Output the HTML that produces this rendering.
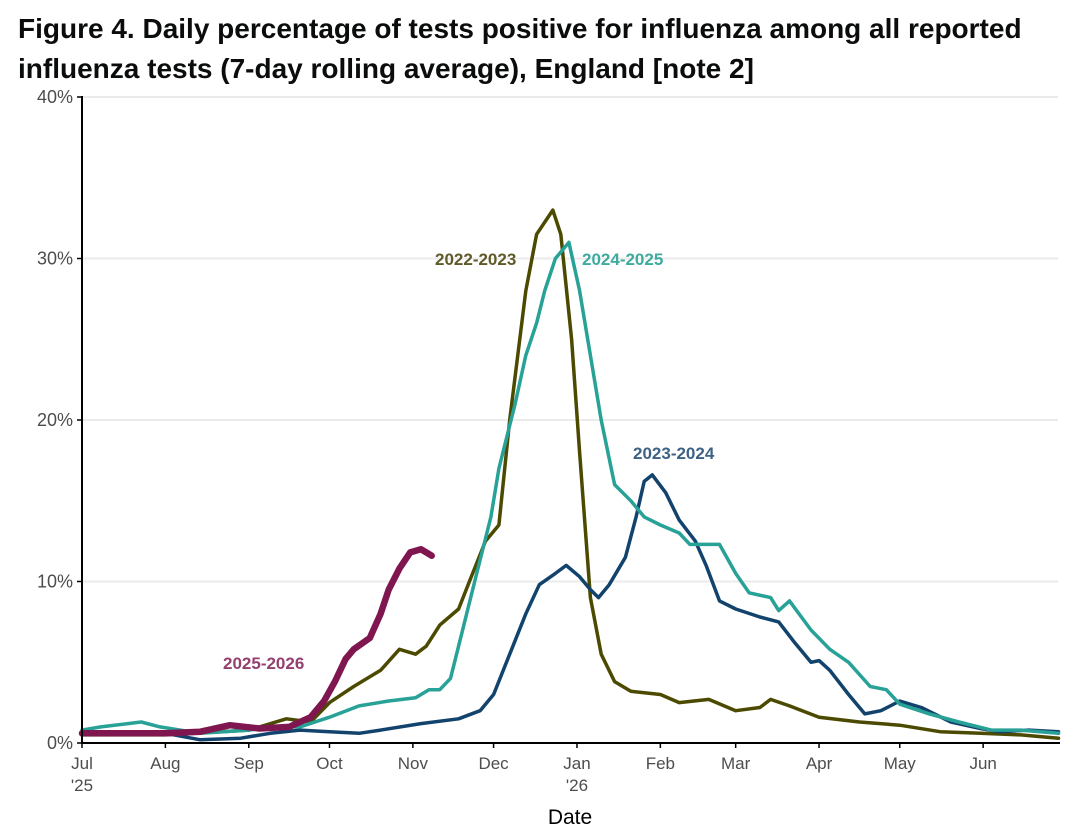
<!DOCTYPE html>
<html><head><meta charset="utf-8"><style>
body{margin:0;background:#fff;}
svg{display:block;font-family:"Liberation Sans",sans-serif;}
</style></head><body>
<svg id="chart" width="1070" height="840" viewBox="0 0 1070 840">
<text x="18" y="38" font-size="28" font-weight="bold" fill="#0b0c0c">Figure 4. Daily percentage of tests positive for influenza among all reported</text>
<text x="18" y="78" font-size="28" font-weight="bold" fill="#0b0c0c">influenza tests (7-day rolling average), England [note 2]</text>
<g id="grid"></g>
<g id="series"></g>
<g id="axes"></g>
<g id="labels"></g>
<text x="570" y="824" font-size="21" text-anchor="middle" fill="#000">Date</text>
</svg>
<script>
const yTicks = [0, 10, 20, 30, 40];
const yTickLabels = ["0%", "10%", "20%", "30%", "40%"];
const monthDays = [0, 31, 62, 92, 123, 153, 184, 215, 243, 274, 304, 335];
const monthLabels = ["Jul", "Aug", "Sep", "Oct", "Nov", "Dec", "Jan", "Feb", "Mar", "Apr", "May", "Jun"];
const monthSubLabels = ["'25", "", "", "", "", "", "'26", "", "", "", "", ""];
const s2223 = [[0,0.5],[31,0.5],[62,0.8],[76,1.5],[85,1.3],[92,2.5],[101,3.5],[111,4.5],[118,5.8],[124,5.5],[128,6],[133,7.3],[140,8.3],[144,10],[150,12.5],[155,13.5],[159,20],[165,28],[169,31.5],[175,33],[178,31.5],[182,25],[185,18],[189,9],[193,5.5],[198,3.8],[204,3.2],[215,3],[222,2.5],[233,2.7],[243,2],[252,2.2],[256,2.7],[263,2.3],[274,1.6],[289,1.3],[304,1.1],[319,0.7],[334,0.6],[349,0.5],[363,0.3]];
const s2324 = [[0,0.6],[31,0.6],[44,0.2],[59,0.3],[70,0.6],[81,0.8],[92,0.7],[103,0.6],[111,0.8],[126,1.2],[140,1.5],[148,2.0],[153,3],[159,5.5],[165,8],[170,9.8],[176,10.5],[180,11],[185,10.3],[189,9.5],[192,9.0],[196,9.8],[202,11.5],[206,14],[209,16.2],[212,16.6],[217,15.5],[222,13.8],[228,12.5],[232,11],[237,8.8],[243,8.3],[252,7.8],[259,7.5],[265,6.2],[271,5],[274,5.1],[278,4.5],[285,3],[291,1.8],[297,2],[304,2.6],[312,2.2],[323,1.3],[334,0.9],[341,0.7],[352,0.8],[363,0.7]];
const s2425 = [[0,0.8],[7,1.0],[22,1.3],[29,1.0],[44,0.6],[62,0.8],[70,1.0],[81,1.0],[92,1.6],[103,2.3],[114,2.6],[124,2.8],[129,3.3],[133,3.3],[137,4],[140,6],[146,10],[152,14],[155,17],[161,21],[165,24],[169,26],[172,28],[176,30],[181,31],[185,28],[189,24],[193,20],[198,16],[204,15],[209,14],[215,13.5],[222,13],[226,12.3],[237,12.3],[243,10.5],[248,9.3],[256,9],[259,8.2],[263,8.8],[271,7],[278,5.8],[285,5],[293,3.5],[299,3.3],[304,2.4],[315,1.8],[326,1.3],[338,0.8],[349,0.8],[363,0.6]];
const s2526 = [[0,0.6],[31,0.6],[44,0.7],[55,1.1],[66,0.9],[77,1.0],[85,1.6],[90,2.6],[94,3.8],[98,5.2],[101,5.8],[107,6.5],[111,8],[114,9.5],[118,10.8],[122,11.8],[126,12],[130,11.6]];

const NS="http://www.w3.org/2000/svg";
const x0=82, pxDay=2.69, y0=743, pxPct=16.15;
const xs=d=>x0+d*pxDay, ys=v=>y0-v*pxPct;
function mk(tag,parent){const e=document.createElementNS(NS,tag);document.getElementById(parent).appendChild(e);return e;}
yTicks.forEach((t,i)=>{
  const g=mk('line','grid');
  
  
  g.setAttribute('x1',x0);g.setAttribute('x2',1058);g.setAttribute('y1',ys(t));g.setAttribute('y2',ys(t));
  g.setAttribute('stroke','#ebebeb');g.setAttribute('stroke-width','2');
  const tk=mk('line','axes');
  
  
  tk.setAttribute('x1',x0-5);tk.setAttribute('x2',x0);tk.setAttribute('y1',ys(t));tk.setAttribute('y2',ys(t));tk.setAttribute('stroke','#000');tk.setAttribute('stroke-width','1.5');
  const l=mk('text','axes');
  
  
  l.setAttribute('x',x0-9);l.setAttribute('y',ys(t)+6);l.setAttribute('text-anchor','end');l.setAttribute('font-size','18');l.setAttribute('fill','#4d4d4d');
  l.textContent=yTickLabels[i];
});
const ax=mk('path','axes');


ax.setAttribute('d',`M${x0} ${ys(40)-1}V${y0}H1060`);ax.setAttribute('stroke','#000');ax.setAttribute('stroke-width','2');ax.setAttribute('fill','none');
monthDays.forEach((d,i)=>{
  const tk=mk('line','axes');
  
  
  tk.setAttribute('x1',xs(d));tk.setAttribute('x2',xs(d));tk.setAttribute('y1',y0);tk.setAttribute('y2',y0+5);tk.setAttribute('stroke','#000');tk.setAttribute('stroke-width','1.5');
  const l=mk('text','axes');
  
  
  l.setAttribute('x',xs(d));l.setAttribute('y',769);l.setAttribute('text-anchor','middle');l.setAttribute('font-size','17');l.setAttribute('fill','#4d4d4d');
  l.textContent=monthLabels[i];
  if(monthSubLabels[i]){
    const s=mk('text','axes');
    
    
    s.setAttribute('x',xs(d));s.setAttribute('y',791);s.setAttribute('text-anchor','middle');s.setAttribute('font-size','17');s.setAttribute('fill','#4d4d4d');
    s.textContent=monthSubLabels[i];
  }
});
function line(data,color,w,name){
  const p=mk('path','series');
  
  
  p.setAttribute('d',data.map((q,i)=>(i?'L':'M')+xs(q[0]).toFixed(1)+' '+ys(q[1]).toFixed(1)).join(''));
  p.setAttribute('fill','none');p.setAttribute('stroke',color);p.setAttribute('stroke-width',w);p.setAttribute('stroke-linejoin','round');p.setAttribute('stroke-linecap','round');
}
line(s2223,'#4b4a00',3.5,'line-2022-2023');
line(s2324,'#12436d',3.5,'line-2023-2024');
line(s2425,'#28a197',3.5,'line-2024-2025');
line(s2526,'#801650',6.5,'line-2025-2026');
function lab(t,x,y,c,name){
  const l=mk('text','labels');
  
  
  l.setAttribute('x',x);l.setAttribute('y',y);l.setAttribute('font-size','17');l.setAttribute('font-weight','bold');l.setAttribute('fill',c);
  l.textContent=t;
}
lab('2022-2023',435,265,'#5f5a28','label-2022-2023');
lab('2024-2025',582,265,'#3eaaa0','label-2024-2025');
lab('2023-2024',633,459,'#3d6285','label-2023-2024');
lab('2025-2026',223,669,'#94406f','label-2025-2026');
</script>
</body></html>
